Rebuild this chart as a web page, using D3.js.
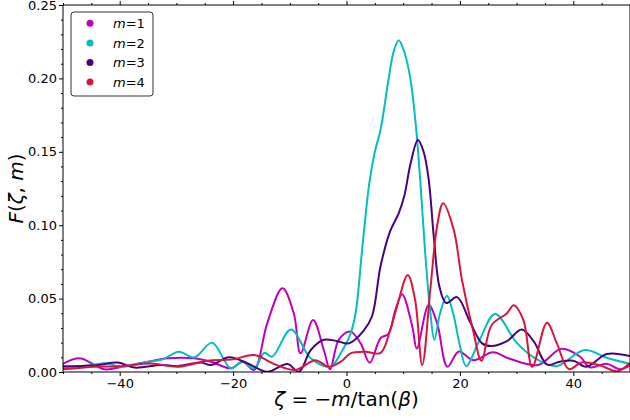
<!DOCTYPE html>
<html>
<head>
<meta charset="utf-8">
<script src="https://cdn.jsdelivr.net/npm/d3@7"></script>
<style>
  body { margin: 0; background: #fff; }
  text { font-family: "DejaVu Sans", sans-serif; }
</style>
</head>
<body>
<div id="chart"></div>
<script>
// values
const m1Zeta = [-50, -47.1, -44.5, -42.7, -39, -35.7, -31.5, -26.9, -23.9, -20.4, -18.3, -16.3, -14, -11.3, -9.3, -8.1, -5.9, -4.0, -2.9, -1.35, 0.7, 2.5, 4.1, 6.0, 7.4, 8.6, 9.8, 11.6, 12.4, 14.5, 16, 17.8, 19.8, 22.4, 25.8, 28.8, 33.8, 37.9, 41.2, 42.9, 45.9, 48.2, 50]
const m1F = [0.0055, 0.0093, 0.005, 0.0018, 0.004, 0.0064, 0.0093, 0.0093, 0.007, 0.0025, 0.007, 0.0014, 0.033, 0.057, 0.040, 0.0127, 0.0354, 0.015, 0.0018, 0.022, 0.0275, 0.0195, 0.0063, 0.023, 0.026, 0.042, 0.053, 0.031, 0.016, 0.0456, 0.033, 0.0036, 0.014, 0.008, 0.0135, 0.009, 0.0048, 0.0158, 0.0104, 0.0032, 0.0056, 0.0018, 0.0045]

const m2Zeta = [-50, -44.7, -42.4, -39.8, -35, -32.4, -29.6, -26.8, -23.7, -20.4, -18.3, -16.3, -14.5, -13.1, -9.8, -6.3, -2.8, -1, 0.7, 1.6, 2.8, 4.0, 5.0, 6.0, 7.4, 8.3, 9.2, 10.2, 11.3, 12.3, 13.0, 13.9, 14.8, 15.5, 16.5, 17.7, 18.8, 20, 21.1, 23.5, 26.2, 30, 33, 37, 42, 46, 50]
const m2F = [0.0028, 0.005, 0.006, 0.0036, 0.007, 0.0086, 0.0138, 0.010, 0.020, 0.0025, 0.007, 0.0025, 0.013, 0.0105, 0.029, 0.0093, 0.0036, 0.013, 0.026, 0.040, 0.085, 0.128, 0.150, 0.165, 0.199, 0.218, 0.226, 0.218, 0.199, 0.165, 0.131, 0.08, 0.04, 0.022, 0.04, 0.052, 0.04, 0.018, 0.004, 0.022, 0.0395, 0.020, 0.010, 0.004, 0.015, 0.0095, 0.0055]

const m3Zeta = [-50, -44.4, -40.3, -37.4, -32.7, -29.8, -25.7, -23.9, -20.7, -17.5, -14, -10.4, -8.4, -6.3, -4, -1.6, 0.4, 3, 4.5, 6.0, 7.7, 9.2, 10.2, 11.3, 12.6, 13.6, 14.5, 15.4, 16.4, 17.6, 19.5, 21.8, 23.9, 25.5, 28.3, 30.9, 33, 35.4, 37.6, 40, 42.3, 45.9, 50]
const m3F = [0.004, 0.0045, 0.0064, 0.003, 0.0048, 0.004, 0.0064, 0.0048, 0.010, 0.006, 0.0002, 0.0054, 0.0002, 0.015, 0.022, 0.021, 0.0195, 0.028, 0.038, 0.072, 0.096, 0.108, 0.12, 0.142, 0.158, 0.15, 0.131, 0.092, 0.058, 0.047, 0.051, 0.034, 0.0195, 0.0177, 0.021, 0.029, 0.021, 0.005, 0.007, 0.0077, 0.0036, 0.0123, 0.0108]

const m4Zeta = [-50, -44.4, -39.8, -34.5, -29.6, -24.5, -20, -16.3, -12.5, -9, -5.5, -3.1, -1, 0.7, 3.3, 6.0, 7.7, 8.9, 10.8, 12.1, 13.35, 14.8, 16, 17.05, 18.9, 20.4, 22.4, 23.8, 25.6, 28.3, 29.5, 31.2, 32.75, 35.35, 37.1, 39.2, 41.5, 44.7, 47.8, 50]
const m4F = [0.0018, 0.0036, 0.004, 0.0058, 0.0036, 0.0077, 0.0086, 0.0116, 0.005, 0.0014, 0.008, 0.0036, 0.007, 0.0127, 0.0138, 0.013, 0.0286, 0.0445, 0.066, 0.049, 0.0048, 0.057, 0.100, 0.115, 0.097, 0.062, 0.027, 0.0077, 0.032, 0.040, 0.0455, 0.0354, 0.0035, 0.0336, 0.0195, 0.002, 0.0065, 0.0045, 0.0005, 0.0063]

const mLabels = ['1', '2', '3', '4']
const colors = ['#bf00bf', '#00bfbf', '#4b0082', '#dc143c']
const xMajor = [-40, -20, 0, 20, 40]
const yMajor = [0, 0.05, 0.10, 0.15, 0.20, 0.25]

const width = 630
const height = 420
const margin = {top: 5, right: 0, bottom: 48, left: 63}

const svg = d3.select('#chart').append('svg')
  .attr('width', width)
  .attr('height', height)

const x = d3.scaleLinear()
  .domain([-50, 50])
  .range([margin.left, width - margin.right])

const y = d3.scaleLinear()
  .domain([0, 0.25])
  .range([height - margin.bottom, margin.top])

svg.append('clipPath').attr('id', 'plot')
  .append('rect')
  .attr('x', margin.left).attr('y', margin.top)
  .attr('width', width - margin.right - margin.left)
  .attr('height', height - margin.bottom - margin.top)

const series = [
  [m1Zeta, m1F], [m2Zeta, m2F], [m3Zeta, m3F], [m4Zeta, m4F]
].map(([zs, fs]) => zs.map((z, i) => ({ z, f: fs[i] })))

const line = d3.line()
  .x(d => x(d.z))
  .y(d => y(d.f))
  .curve(d3.curveCatmullRom.alpha(0.5))

svg.append('g')
  .attr('clip-path', 'url(#plot)')
  .selectAll('path')
  .data(series)
  .join('path')
  .attr('fill', 'none')
  .attr('stroke', (d, i) => colors[i])
  .attr('stroke-width', 2)
  .attr('d', line)

// axes
const fmtX = d => d < 0 ? '\u2212' + Math.abs(d) : d
const xMinor = d3.range(-50, 51, 5).filter(v => !xMajor.includes(v))
const yMinor = d3.range(0, 0.2501, 0.01).filter(v => Math.abs(Math.round(v * 20) - v * 20) > 1e-6)

const styleAxis = g => {
  g.select('.domain').remove()
  g.selectAll('line').attr('stroke', '#000')
  g.selectAll('text').attr('font-size', 13).attr('fill', '#000')
}

const yBottom = y(0)
const yTop = y(0.25)
const xLeft = x(-50)
const xRight = x(50)

svg.append('g')
  .attr('transform', `translate(0,${yBottom})`)
  .call(d3.axisBottom(x).tickValues(xMajor).tickFormat(fmtX).tickSize(4).tickPadding(3))
  .call(styleAxis)
svg.append('g')
  .attr('transform', `translate(0,${yBottom})`)
  .call(d3.axisBottom(x).tickValues(xMinor).tickFormat('').tickSize(2))
  .call(styleAxis)
svg.append('g')
  .attr('transform', `translate(0,${yTop})`)
  .call(d3.axisTop(x).tickValues(xMajor).tickFormat('').tickSize(4))
  .call(styleAxis)
svg.append('g')
  .attr('transform', `translate(0,${yTop})`)
  .call(d3.axisTop(x).tickValues(xMinor).tickFormat('').tickSize(2))
  .call(styleAxis)

svg.append('g')
  .attr('transform', `translate(${xLeft},0)`)
  .call(d3.axisLeft(y).tickValues(yMajor).tickFormat(d3.format('.2f')).tickSize(4).tickPadding(2))
  .call(styleAxis)
svg.append('g')
  .attr('transform', `translate(${xLeft},0)`)
  .call(d3.axisLeft(y).tickValues(yMinor).tickFormat('').tickSize(2))
  .call(styleAxis)

// frame
svg.append('rect')
  .attr('x', xLeft).attr('y', yTop)
  .attr('width', xRight - xLeft).attr('height', yBottom - yTop)
  .attr('fill', 'none')
  .attr('stroke', '#000')
  .attr('stroke-width', 1)

// axis titles
const xTitle = svg.append('text')
  .attr('x', x(0))
  .attr('y', 406)
  .attr('text-anchor', 'middle')
  .attr('font-size', 20)
xTitle.append('tspan').attr('font-style', 'italic').text('\u03b6')
xTitle.append('tspan').text(' = \u2212')
xTitle.append('tspan').attr('font-style', 'italic').text('m')
xTitle.append('tspan').text('/tan(')
xTitle.append('tspan').attr('font-style', 'italic').text('\u03b2')
xTitle.append('tspan').text(')')

const yTitle = svg.append('text')
  .attr('transform', `translate(23,${(yTop + yBottom) / 2}) rotate(-90)`)
  .attr('text-anchor', 'middle')
  .attr('font-size', 20)
yTitle.append('tspan').attr('font-style', 'italic').text('F')
yTitle.append('tspan').text('(')
yTitle.append('tspan').attr('font-style', 'italic').text('\u03b6')
yTitle.append('tspan').text(', ')
yTitle.append('tspan').attr('font-style', 'italic').text('m')
yTitle.append('tspan').text(')')

// legend
const legend = svg.append('g')
legend.append('rect')
  .attr('x', 71).attr('y', 12)
  .attr('width', 82).attr('height', 84)
  .attr('rx', 3)
  .attr('fill', '#fff')
  .attr('stroke', '#333')
  .attr('stroke-width', 1)

const rows = legend.selectAll('g.row')
  .data(mLabels)
  .join('g')
  .attr('class', 'row')
  .attr('transform', (d, i) => `translate(0,${23.3 + i * 19.6})`)

rows.append('circle')
  .attr('cx', 90).attr('cy', 0).attr('r', 3.5)
  .attr('fill', (d, i) => colors[i])

const rowText = rows.append('text')
  .attr('x', 113).attr('y', 4.7)
  .attr('font-size', 13)
rowText.append('tspan').attr('font-style', 'italic').text('m')
rowText.append('tspan').text(d => '=' + d)
</script>
</body>
</html>
